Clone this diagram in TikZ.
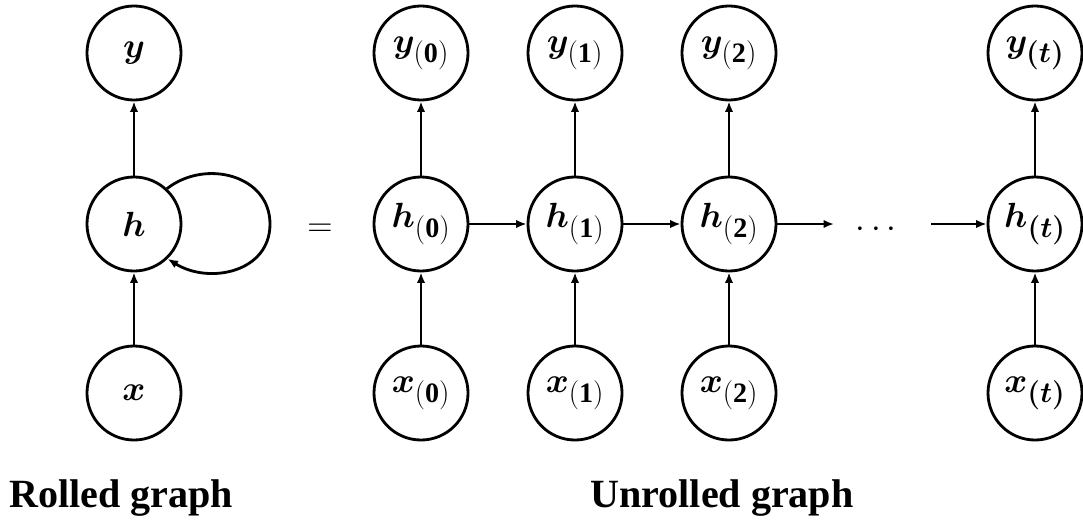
\documentclass[tikz,border=0pt]{standalone}
\usepackage{fontspec}
\setmainfont{Liberation Serif}
\usepackage{amsmath}
\usepackage{bm}
\DeclareMathSizes{27}{27}{20}{15}
\usetikzlibrary{arrows.meta,positioning}

\begin{document}
\begin{tikzpicture}[
  x=0.025cm,y=-0.025cm,>={Latex[length=2.6mm,width=2.1mm]},
  flow/.style={->,line width=2pt},
  unit/.style={circle,draw,line width=2pt,minimum size=2.35cm,inner sep=0pt,
    font=\fontsize{27}{32}\selectfont},
  caption/.style={font=\fontsize{28.5}{34}\selectfont\bfseries,anchor=base}]
\useasboundingbox (0,0) rectangle (1083,520);
% rolled graph
\node[unit] (roly) at (134,53) {$\bm{y}$};
\node[unit] (rolh) at (134,224) {$\bm{h}$};
\node[unit] (rolx) at (134,393) {$\bm{x}$};
\coordinate (loopr) at (270,224);
\draw[flow] (rolx)--(rolh);
\draw[flow] (rolh)--(roly);
\draw[line width=2pt] (rolh.47) to[out=38,in=90,looseness=1.15] (loopr);
\draw[flow] (loopr) to[out=-90,in=-32,looseness=1.15] (rolh.-46);
\node[font=\fontsize{27}{32}\selectfont] (eq) at (320,230) {$=$};
% unrolled graph
\node[unit] (y0) at (421,53) {$\bm{y}_{\mathbf{(0)}}$};
\node[unit] (h0) at (421,224) {$\bm{h}_{\mathbf{(0)}}$};
\node[unit] (x0) at (421,393) {$\bm{x}_{\mathbf{(0)}}$};
\node[unit] (y1) at (575,53) {$\bm{y}_{\mathbf{(1)}}$};
\node[unit] (h1) at (575,224) {$\bm{h}_{\mathbf{(1)}}$};
\node[unit] (x1) at (575,393) {$\bm{x}_{\mathbf{(1)}}$};
\node[unit] (y2) at (729,53) {$\bm{y}_{\mathbf{(2)}}$};
\node[unit] (h2) at (729,224) {$\bm{h}_{\mathbf{(2)}}$};
\node[unit] (x2) at (729,393) {$\bm{x}_{\mathbf{(2)}}$};
\node[unit] (yt) at (1035,53) {$\bm{y}_{\bm{(t)}}$};
\node[unit] (ht) at (1035,224) {$\bm{h}_{\bm{(t)}}$};
\node[unit] (xt) at (1035,393) {$\bm{x}_{\bm{(t)}}$};
\node[font=\fontsize{25}{30}\selectfont] (dots) at (879,230) {$\cdots$};
\coordinate (h2end) at (834,224);
\coordinate (htstart) at (931,224);
\draw[flow] (x0)--(h0);
\draw[flow] (h0)--(y0);
\draw[flow] (x1)--(h1);
\draw[flow] (h1)--(y1);
\draw[flow] (x2)--(h2);
\draw[flow] (h2)--(y2);
\draw[flow] (xt)--(ht);
\draw[flow] (ht)--(yt);
\draw[flow] (h0)--(h1);
\draw[flow] (h1)--(h2);
\draw[flow] (h2)--(h2end);
\draw[flow] (htstart)--(ht);
% captions
\node[caption] (rolled) at (121,507) {Rolled graph};
\node[caption] (unrolled) at (722,507) {Unrolled graph};
\end{tikzpicture}
\end{document}
